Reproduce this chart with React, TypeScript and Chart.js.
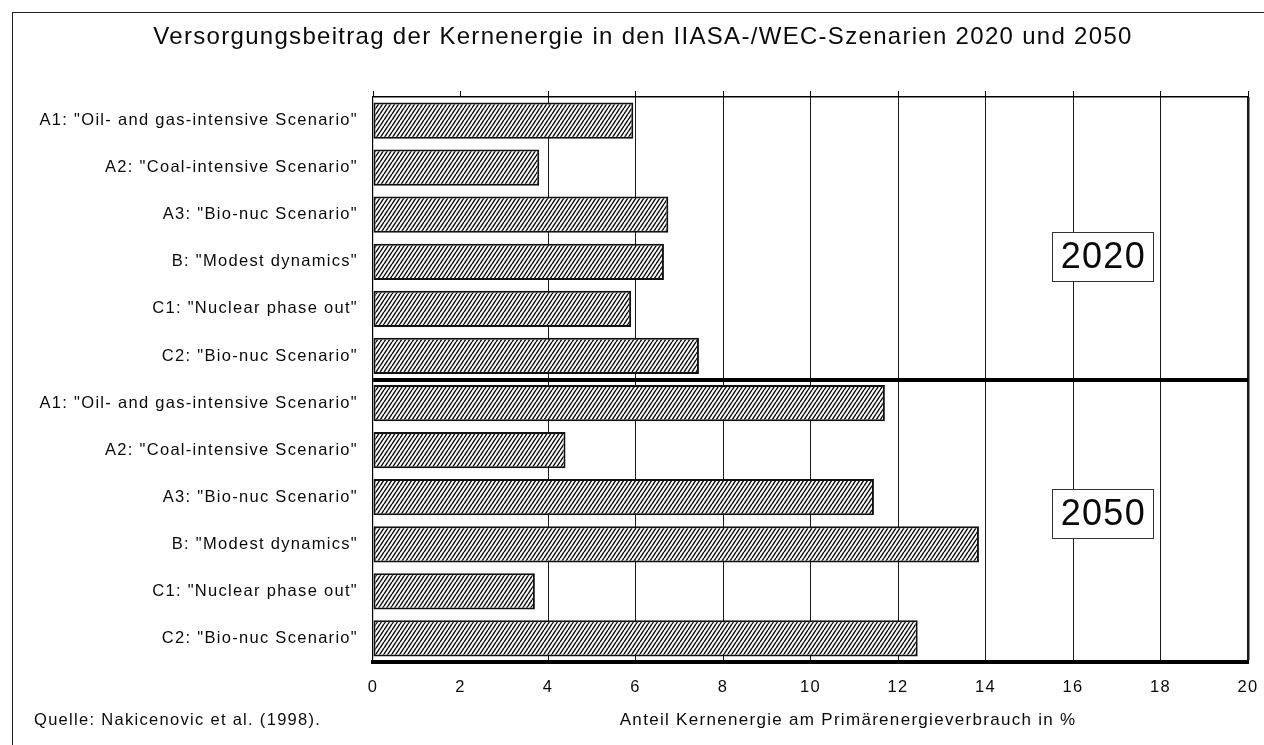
import { useEffect, useRef } from "react";
import { Chart, registerables } from "chart.js";

Chart.register(...registerables);

// ---------- data ----------
const titleText =
  "Versorgungsbeitrag der Kernenergie in den IIASA-/WEC-Szenarien 2020 und 2050";
const scenarios = [
  'A1: "Oil- and gas-intensive Scenario"',
  'A2: "Coal-intensive Scenario"',
  'A3: "Bio-nuc Scenario"',
  'B: "Modest dynamics"',
  'C1: "Nuclear phase out"',
  'C2: "Bio-nuc Scenario"',
];
const values2020 = [5.95, 3.8, 6.75, 6.65, 5.9, 7.45];
const values2050 = [11.7, 4.4, 11.45, 13.85, 3.7, 12.45];
const periods = ["2020", "2050"];
const xMin = 0;
const xMax = 20;
const xStep = 2;
const axisTitle = "Anteil Kernenergie am Primärenergieverbrauch in %";
const sourceText = "Quelle: Nakicenovic et al. (1998).";

// ---------- annotation placement (in axis units) ----------
const periodLabelX = 16.67;
const periodLabelY = [2.89, 8.35];
const axisTitleX = 10.86;

const FONT = '"Liberation Sans", Arial, Helvetica, sans-serif';
const SPACING = "1.3px";
const INK = "#0a0a0a";

function makeHatch(): CanvasPattern | string {
  const w = 4;
  const h = 6;
  const c = document.createElement("canvas");
  c.width = w;
  c.height = h;
  const g = c.getContext("2d");
  if (!g) return "#777";
  g.fillStyle = "#fff";
  g.fillRect(0, 0, w, h);
  g.strokeStyle = "#111";
  g.lineWidth = 1.5;
  g.beginPath();
  for (let k = -1; k <= 1; k++) {
    g.moveTo(k * w, h);
    g.lineTo(k * w + w, 0);
  }
  g.stroke();
  const p = g.createPattern(c, "repeat");
  return p || "#777";
}

const spacingPlugin = {
  id: "letterSpacing",
  beforeLayout(chart: any) {
    chart.ctx.letterSpacing = SPACING;
  },
  beforeDraw(chart: any) {
    chart.ctx.letterSpacing = SPACING;
  },
};

const annotationPlugin = {
  id: "annotations",
  afterDraw(chart: any) {
    const { ctx, scales } = chart;
    const x = scales.x;
    const y = scales.y;
    ctx.save();
    ctx.letterSpacing = SPACING;
    // period boxes
    periods.forEach((p, i) => {
      const cx = x.getPixelForValue(periodLabelX);
      const cy = y.getPixelForValue(periodLabelY[i]);
      ctx.font = `36px ${FONT}`;
      const tw = ctx.measureText(p).width;
      const bw = tw + 16;
      const bh = 49;
      ctx.fillStyle = "#fff";
      ctx.fillRect(cx - bw / 2, cy - bh / 2, bw, bh);
      ctx.strokeStyle = "#333";
      ctx.lineWidth = 1;
      ctx.strokeRect(Math.round(cx - bw / 2) + 0.5, Math.round(cy - bh / 2) + 0.5, Math.round(bw), bh);
      ctx.fillStyle = INK;
      ctx.textAlign = "center";
      ctx.textBaseline = "middle";
      ctx.fillText(p, cx + 1, cy + 1);
    });
    // footer texts
    const fy = chart.chartArea.bottom + 58;
    ctx.font = `16.5px ${FONT}`;
    ctx.fillStyle = INK;
    ctx.textBaseline = "middle";
    ctx.textAlign = "left";
    ctx.fillText(sourceText, 34, fy);
    ctx.font = `17px ${FONT}`;
    ctx.textAlign = "center";
    ctx.fillText(axisTitle, x.getPixelForValue(axisTitleX), fy);
    ctx.restore();
  },
};

export default function App() {
  const ref = useRef<HTMLCanvasElement | null>(null);

  useEffect(() => {
    const canvas = ref.current;
    if (!canvas) return;
    const hatch = makeHatch();
    const labels = [...scenarios, ...scenarios];
    const chart = new Chart(canvas, {
      type: "bar",
      data: {
        labels,
        datasets: [
          {
            label: "Anteil Kernenergie",
            data: [...values2020, ...values2050],
            backgroundColor: hatch as any,
            borderColor: "#111",
            borderWidth: 2,
            borderSkipped: false,
            barPercentage: 0.77,
            categoryPercentage: 1,
            xAxisID: "x",
            yAxisID: "y",
          },
        ],
      },
      options: {
        indexAxis: "y",
        animation: false,
        responsive: true,
        maintainAspectRatio: false,
        layout: { padding: { left: 38, right: 16, top: 0, bottom: 0 } },
        plugins: {
          legend: { display: false },
          tooltip: { enabled: false },
          title: {
            display: true,
            text: titleText,
            color: INK,
            font: { size: 24, family: FONT, weight: "normal" },
            padding: { top: 23, bottom: 39.2 },
          },
        },
        scales: {
          x: {
            type: "linear",
            position: "bottom",
            min: xMin,
            max: xMax,
            ticks: {
              stepSize: xStep,
              color: INK,
              padding: 16,
              font: { size: 16.5, family: FONT },
            },
            grid: {
              drawTicks: false,
              color: (c: any) =>
                c.type === "tick" && (c.tick.value === 0 || c.tick.value === 2)
                  ? "rgba(0,0,0,0)"
                  : "#1a1a1a",
              lineWidth: (c: any) => (c.type === "tick" && c.tick.value === 20 ? 2.5 : 1),
            },
            border: { display: true, color: "#000", width: 4 },
            afterFit(s: any) {
              s.height = 83;
              s.paddingLeft = 0;
              s.paddingRight = 0;
            },
          },
          x2: {
            type: "linear",
            position: "top",
            min: xMin,
            max: xMax,
            ticks: { display: false, stepSize: xStep },
            grid: {
              drawOnChartArea: false,
              drawTicks: true,
              tickLength: 6,
              color: "#000",
              lineWidth: 1,
            },
            border: { display: false },
            afterFit(s: any) {
              s.height = 6;
              s.paddingLeft = 0;
              s.paddingRight = 0;
            },
          },
          y: {
            type: "category",
            offset: true,
            ticks: {
              autoSkip: false,
              padding: 15,
              color: INK,
              font: { size: 16.5, family: FONT },
            },
            grid: {
              offset: true,
              drawTicks: false,
              color: (c: any) =>
                c.type === "tick" && (c.index === 0 || c.index === scenarios.length)
                  ? "#000"
                  : "rgba(0,0,0,0)",
              lineWidth: (c: any) =>
                c.type === "tick" && c.index === scenarios.length ? 4 : 1.5,
            },
            border: { display: true, color: "#000", width: 1.2 },
            afterFit(s: any) {
              s.width = 335;
              s.paddingTop = 0;
              s.paddingBottom = 0;
            },
          },
        },
      },
      plugins: [spacingPlugin, annotationPlugin],
    } as any);
    return () => chart.destroy();
  }, []);

  return (
    <div
      style={{
        position: "fixed",
        left: 0,
        top: 0,
        width: 1264,
        height: 745,
        background: "#fff",
      }}
    >
      <div
        style={{
          position: "absolute",
          left: 12,
          top: 12,
          right: -20,
          bottom: -20,
          borderTop: "1.5px solid #222",
          borderLeft: "1.5px solid #222",
        }}
      />
      <canvas ref={ref} style={{ position: "relative" }} />
    </div>
  );
}
